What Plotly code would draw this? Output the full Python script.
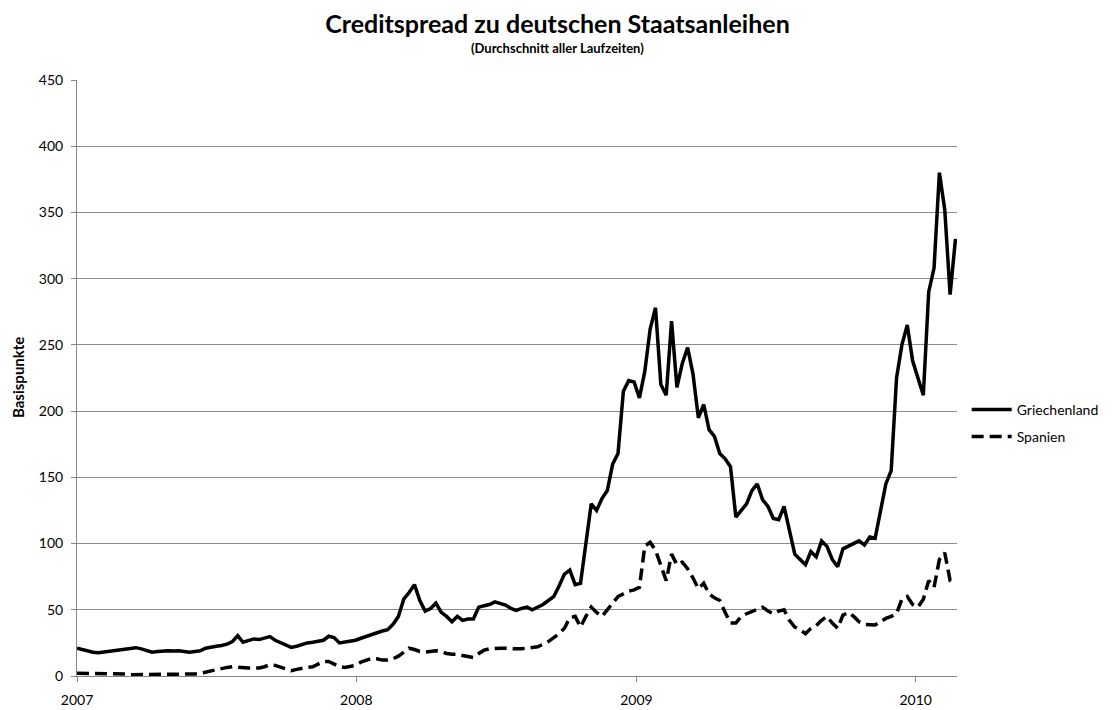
import pandas as pd
import plotly.graph_objects as go

dates = pd.date_range("2007-01-01", periods=165, freq="7D")

griechenland = [
    21, 20, 18.5, 18, 17.5, 18, 18.5, 19, 20, 20.5, 21, 21.4, 20.5, 19.5, 18, 18.5,
    19, 19, 18.8, 19, 18.5, 18, 18.5, 19, 21, 22, 22.5, 23, 24, 26, 30.5, 25.5,
    27, 28, 27.5, 28.5, 29.7, 27, 25, 23, 21.6, 22.5, 24, 25, 25.5, 26, 27, 30,
    29, 25, 25.5, 26.5, 27, 28.5, 30, 31, 33, 34, 35, 39, 45, 58, 63, 69,
    57, 49, 51, 55, 48, 45, 41, 45, 42, 43, 43, 52, 53, 54, 56, 55,
    53.6, 51, 49.5, 51, 52, 50, 52, 54, 57, 60, 68, 77, 80, 69, 70, 100,
    130, 125, 134, 140, 160, 168, 215, 223, 222, 210, 230, 262, 278, 220, 212, 268,
    218, 236, 248, 228, 195, 205, 186, 181, 168, 164, 158, 120, 125, 130, 140, 145,
    133, 128, 119, 118, 128, 110, 92, 88, 84, 94, 90, 102, 98, 88, 82.5, 96,
    98, 100, 102, 99, 105, 104, 123, 145, 155, 225, 250, 265, 238, 225, 212, 290,
    308, 380, 352, 288, 330,
]

spanien = [
    2, 2, 2, 1.5, 1.5, 1.5, 2, 2, 2, 1.5, 1, 1, 1, 1.5, 1.5, 1.5,
    1, 1, 1.5, 1.5, 1, 1, 1.5, 2, 3, 4, 5, 6, 6.5, 7, 6.5, 6.5,
    6, 6, 6, 7, 8.5, 8, 6.5, 5, 4, 5, 6, 6.5, 7, 9, 11, 11,
    9, 7, 6.5, 7, 8, 10.5, 12, 13.3, 13, 12, 12, 13, 15, 18, 21, 20,
    18.5, 18, 18.5, 19, 18.5, 17, 16.5, 16.5, 15.5, 14.5, 14, 17, 19.5, 20.5, 21, 21,
    21, 20.5, 20.5, 20.6, 21, 21.5, 22, 24, 26, 29, 32, 36, 44, 45, 37, 45,
    52, 48, 45, 50, 55, 60, 62, 64, 65, 67, 98, 101, 95, 84, 72, 92,
    84, 86, 81, 74, 66, 70, 62, 59, 57, 48, 40, 40, 45, 47, 48.6, 50,
    52, 49, 47, 49, 50, 42, 37, 35, 32, 36, 38, 42, 45, 40, 36, 46,
    48, 45, 41, 39, 38.5, 38.5, 41, 43.5, 45, 47, 58, 60, 54, 52, 58, 72,
    67, 88, 93, 72, 70,
]

year_ticks = ["2007-01-01", "2008-01-01", "2009-01-01", "2010-01-01"]
year_labels = ["2007", "2008", "2009", "2010"]
y_ticks = list(range(0, 451, 50))

fig = go.Figure()
fig.add_trace(go.Scatter(x=dates, y=griechenland, mode="lines", name="Griechenland",
                         legendgroup="gr", line=dict(color="black", width=3.5)))
fig.add_trace(go.Scatter(x=dates, y=spanien, mode="lines", name="Spanien",
                         legendgroup="sp", line=dict(color="black", width=3.5, dash="12px,6px")))

fig.update_layout(
    width=1115, height=710,
    paper_bgcolor="white", plot_bgcolor="white",
    margin=dict(l=77, r=158, t=80, b=34, autoexpand=False),
    font=dict(family="Lato", color="black", size=13),
    title=dict(
        text="<b>Creditspread zu deutschen Staatsanleihen</b>",
        x=0.5, xanchor="center", yref="container", y=1 - 24 / 710, yanchor="middle",
        font=dict(size=25, family="Lato"),
    ),
    legend=dict(x=1.011, xanchor="left", y=0.424, yanchor="middle",
                font=dict(size=14), bgcolor="rgba(0,0,0,0)", itemwidth=40,
                traceorder="grouped", tracegroupgap=6),
    showlegend=True,
)

# subtitle centred on the page, not on the plot area
fig.add_annotation(text="<b>(Durchschnitt aller Laufzeiten)</b>", xref="paper", yref="paper",
                   x=(557 - 77) / 880, y=1 + 32 / 596, xanchor="center", yanchor="middle",
                   showarrow=False, font=dict(size=13))
fig.add_annotation(text="<b>Basispunkte</b>", xref="paper", yref="paper",
                   x=-(77 - 18) / 880, y=0.5, xanchor="center", yanchor="middle",
                   textangle=-90, showarrow=False, font=dict(size=15))

fig.update_xaxes(
    type="date", range=["2007-01-01", "2010-02-24"],
    tickvals=year_ticks, ticktext=year_labels,
    showgrid=False, showline=True, linecolor="#868686", linewidth=1,
    ticks="outside", ticklen=5, tickcolor="#868686",
    ticklabelstandoff=6, tickfont=dict(size=14),
)
fig.update_yaxes(
    range=[0, 450], tickvals=y_ticks,
    showgrid=True, gridcolor="#8c8c8c", gridwidth=1,
    showline=True, linecolor="#868686", linewidth=1,
    ticks="outside", ticklen=5, tickcolor="#868686",
    zeroline=False, ticklabelstandoff=5,
    tickfont=dict(size=14),
)

fig.write_html("out.html", config={"displayModeBar": False},
               post_script="document.body.style.margin='0';")
